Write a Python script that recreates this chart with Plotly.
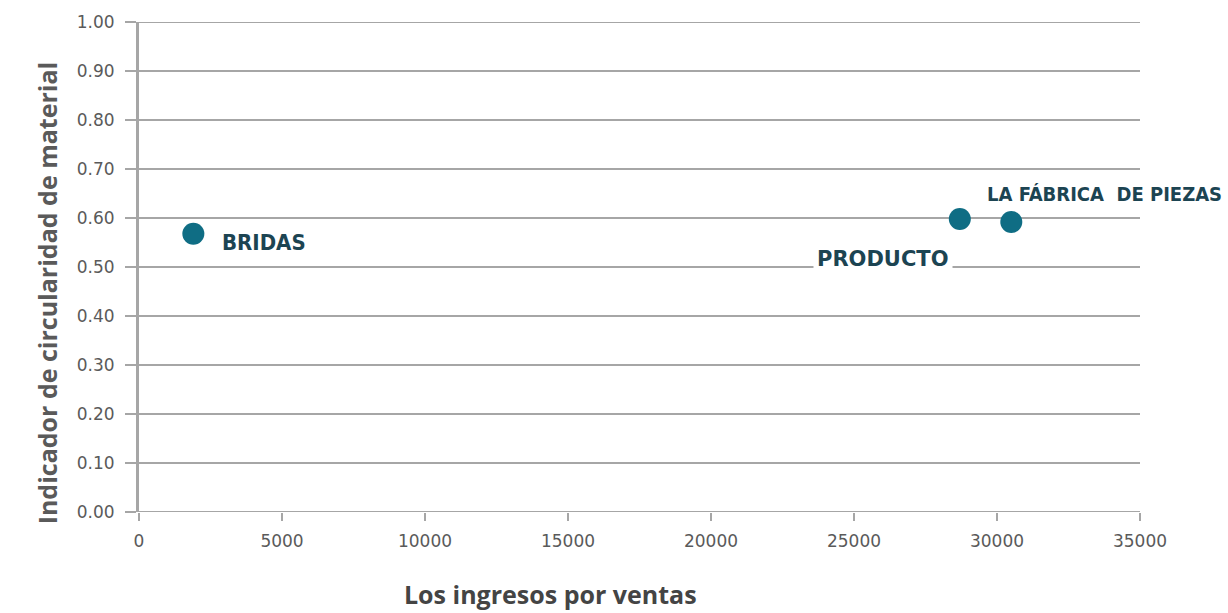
import plotly.graph_objects as go

names = ["BRIDAS", "WIDGETS", "LA FÁBRICA  DE PIEZAS"]
x_vals = [1900, 28700, 30500]
y_vals = [0.568, 0.598, 0.592]
x_ticks = [0, 5000, 10000, 15000, 20000, 25000, 30000, 35000]
y_ticks = [0.0, 0.1, 0.2, 0.3, 0.4, 0.5, 0.6, 0.7, 0.8, 0.9, 1.0]

marker_color = "#0f6d84"
label_color = "#1c4452"
grid_color = "#a6a6a6"
text_gray = "#5a5a5a"

fig = go.Figure()
fig.add_trace(go.Scatter(
    x=x_vals, y=y_vals, mode="markers",
    marker=dict(size=22, color=marker_color),
    hoverinfo="skip", showlegend=False,
))

# boundary gridlines at 0 and 1
for yv in (y_ticks[0], y_ticks[-1]):
    fig.add_shape(type="line", xref="paper", yref="y", x0=0, x1=1, y0=yv, y1=yv,
                  line=dict(color=grid_color, width=2), layer="below")

label_font = dict(family="DejaVu Sans Condensed, DejaVu Sans", size=20, color=label_color)
fig.add_annotation(x=x_vals[0], y=y_vals[0], text="<b>BRIDAS</b>", showarrow=False,
                   xanchor="left", yanchor="middle", xshift=27, yshift=-9,
                   font=dict(family="DejaVu Sans Condensed, DejaVu Sans", size=22, color=label_color))
fig.add_annotation(x=x_vals[2], y=y_vals[2], text="<b>LA FÁBRICA  DE PIEZAS</b>", showarrow=False,
                   xanchor="center", yanchor="middle", xshift=93, yshift=28, font=label_font)
fig.add_annotation(x=x_vals[1], y=y_vals[1], text="<b>PRODUCTO</b>", showarrow=False,
                   xanchor="center", yanchor="middle", xshift=-77, yshift=-40,
                   bgcolor="white", borderpad=3,
                   font=dict(family="DejaVu Sans", size=21, color=label_color))

fig.update_layout(
    width=1228, height=613,
    margin=dict(l=139, r=88, t=16, b=101),
    plot_bgcolor="white", paper_bgcolor="white",
    font=dict(family="DejaVu Sans", color=text_gray, size=17),
    xaxis=dict(range=[0, 35000], tickvals=x_ticks, tickformat="d",
               showgrid=False, zeroline=False, showline=False,
               ticks="outside", ticklen=8, tickcolor=grid_color, tickwidth=2,
               ticklabelstandoff=6,
               tickfont=dict(family="DejaVu Sans", size=17, color=text_gray)),
    yaxis=dict(range=[0, 1.0], tickvals=y_ticks, tickformat=".2f",
               showgrid=True, gridcolor=grid_color, gridwidth=2, zeroline=False,
               showline=True, linecolor=grid_color, linewidth=3,
               ticks="outside", ticklen=11, tickcolor=grid_color, tickwidth=2,
               ticklabelstandoff=7,
               tickfont=dict(family="DejaVu Sans", size=17, color=text_gray)),
)

fig.add_annotation(xref="paper", yref="paper", x=-0.11, y=0.446, yanchor="middle",
                   text="<b>Indicador de circularidad de material</b>", textangle=-90,
                   showarrow=False, font=dict(family="Open Sans, DejaVu Sans", size=25, color=text_gray))
fig.add_annotation(xref="paper", yref="paper", x=0.411, y=-0.168, yanchor="middle",
                   text="<b>Los ingresos por ventas</b>", showarrow=False,
                   font=dict(family="Open Sans, DejaVu Sans", size=25, color="#444444"))

fig.write_html("out.html")
